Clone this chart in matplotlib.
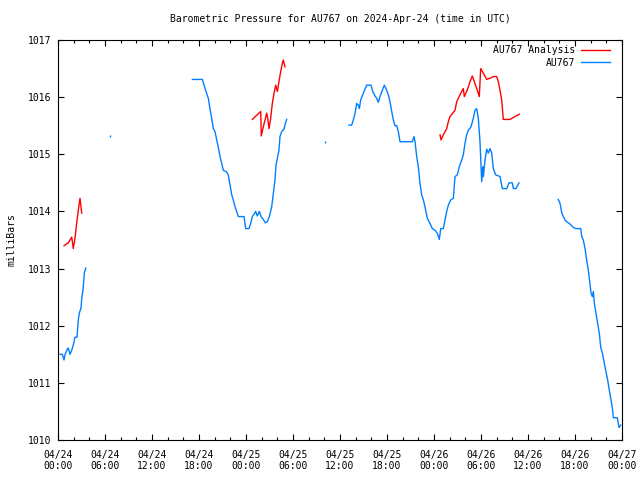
import numpy as np
import matplotlib
matplotlib.use("Agg")
import matplotlib.pyplot as plt

# hours since 2024-04-24 00:00 UTC; nan = gap in the record
au767_hours = [
    0.26, 0.55, 0.77, 0.89, 1.19, 1.31, 1.53, 1.75, 1.95, 2.17, 2.43, 2.59, 2.72, 2.94, 3.03, 3.19, 3.36, 3.54,
    np.nan,
    17.15, 18.42, 18.64, 18.89, 19.19, 19.40, 19.62, 19.83, 20.04, 20.26, 20.46, 20.68, 20.90, 21.10, 21.45,
    21.74, 21.96, 22.18, 22.38, 22.60, 22.81, 23.02, 23.74, 23.96, 24.38, 24.60, 24.81, 25.02, 25.24, 25.44,
    25.70, 25.92, 26.21, 26.47, 26.72, 26.98, 27.28, 27.49, 27.70, 27.83, 28.00, 28.21, 28.34, 28.56, 28.85,
    29.02, 29.20,
    np.nan,
    37.15, 37.49, 37.70, 37.92, 38.13, 38.34, 38.47, 38.64, 38.90, 39.07, 39.41, 39.96, 40.18, 40.47, 40.69,
    40.89, 41.11, 41.40, 41.66, 41.96, 42.17, 42.38, 42.60, 42.81, 43.02, 43.24, 43.44, 43.66, 45.23, 45.45,
    45.58, 45.79, 46.00, 46.21, 46.43, 46.64, 46.85, 47.15, 47.49, 47.79, 48.13, 48.42, 48.68, 48.86, 49.19,
    49.41, 49.62, 49.83, 50.13, 50.47, 50.68, 50.98, 51.23, 51.54, 51.74, 51.96, 52.17, 52.38, 52.72, 53.02,
    53.23, 53.45, 53.66, 53.87, 54.00, 54.09, 54.22, 54.30, 54.51, 54.73, 54.93, 55.15, 55.37, 55.57, 55.88,
    56.43, 56.72, 57.28, 57.58, 58.00, 58.13, 58.47, 58.85,
    np.nan,
    63.87, 64.09, 64.30, 64.51, 64.73, 64.94, 65.36, 65.79, 66.09, 66.73, 66.86, 67.06, 67.28, 67.49, 67.70,
    67.92, 68.05, 68.21, 68.34, 68.47, 68.68, 68.90, 69.10, 69.28, 69.49, 69.74, 69.96, 70.17, 70.38, 70.60,
    70.81, 70.89, 71.40, 71.62, 71.83,
]
au767_mb = [
    1011.50, 1011.50, 1011.40, 1011.49, 1011.59, 1011.61, 1011.50, 1011.57, 1011.66, 1011.80, 1011.80, 1012.10,
    1012.22, 1012.31, 1012.48, 1012.62, 1012.92, 1013.01,
    np.nan,
    1016.31, 1016.31, 1016.21, 1016.10, 1015.98, 1015.80, 1015.63, 1015.45, 1015.40, 1015.25, 1015.13, 1014.96,
    1014.84, 1014.72, 1014.70, 1014.64, 1014.46, 1014.29, 1014.20, 1014.08, 1014.00, 1013.91, 1013.91, 1013.70,
    1013.70, 1013.79, 1013.91, 1013.95, 1014.00, 1013.92, 1014.00, 1013.91, 1013.86, 1013.80, 1013.82, 1013.91,
    1014.08, 1014.32, 1014.55, 1014.81, 1014.93, 1015.07, 1015.31, 1015.40, 1015.44, 1015.54, 1015.61,
    np.nan,
    1015.51, 1015.51, 1015.60, 1015.72, 1015.89, 1015.86, 1015.80, 1015.95, 1016.04, 1016.10, 1016.21, 1016.21,
    1016.10, 1016.02, 1015.98, 1015.91, 1016.01, 1016.12, 1016.21, 1016.12, 1016.04, 1015.92, 1015.75, 1015.60,
    1015.50, 1015.50, 1015.40, 1015.22, 1015.22, 1015.31, 1015.22, 1014.96, 1014.78, 1014.49, 1014.29, 1014.20,
    1014.08, 1013.88, 1013.79, 1013.70, 1013.67, 1013.62, 1013.51, 1013.70, 1013.70, 1013.85, 1014.00, 1014.11,
    1014.20, 1014.23, 1014.61, 1014.64, 1014.78, 1014.90, 1014.99, 1015.19, 1015.34, 1015.42, 1015.48, 1015.63,
    1015.77, 1015.80, 1015.63, 1015.22, 1014.78, 1014.52, 1014.78, 1014.61, 1014.90, 1015.09, 1015.02, 1015.10,
    1015.02, 1014.75, 1014.64, 1014.61, 1014.40, 1014.40, 1014.50, 1014.50, 1014.40, 1014.40, 1014.50,
    np.nan,
    1014.21, 1014.14, 1013.98, 1013.91, 1013.85, 1013.82, 1013.78, 1013.72, 1013.70, 1013.70, 1013.56, 1013.50,
    1013.35, 1013.15, 1012.97, 1012.71, 1012.57, 1012.51, 1012.60, 1012.39, 1012.22, 1012.04, 1011.87, 1011.63,
    1011.52, 1011.34, 1011.19, 1011.05, 1010.87, 1010.70, 1010.52, 1010.39, 1010.39, 1010.22, 1010.26,
]
# lone readings between the gaps
au767_single_hours = [6.64, 34.10]
au767_single_mb = [1015.32, 1015.21]

analysis_hours = [
    0.77, 1.31, 1.75, 1.95, 2.17, 2.38, 2.59, 2.81, 3.03,
    np.nan,
    24.81, 25.88, 25.95, 26.21, 26.43, 26.64, 26.77, 26.94, 27.15, 27.36, 27.58, 27.79, 28.00, 28.21, 28.43,
    28.64, 28.76, 28.98,
    np.nan,
    48.77, 48.90, 49.19, 49.62, 49.83, 50.04, 50.39, 50.68, 50.90, 51.10, 51.32, 51.54, 51.74, 51.87, 52.17,
    52.38, 52.60, 52.89, 53.23, 53.53, 53.78, 53.96, 54.30, 54.73, 55.15, 55.57, 56.00, 56.21, 56.43, 56.64,
    56.85, 57.06, 57.70, 58.34, 58.89,
]
analysis_mb = [
    1013.40, 1013.45, 1013.55, 1013.35, 1013.53, 1013.79, 1014.02, 1014.23, 1013.97,
    np.nan,
    1015.61, 1015.75, 1015.32, 1015.48, 1015.60, 1015.72, 1015.63, 1015.45, 1015.63, 1015.89, 1016.07, 1016.21,
    1016.10, 1016.27, 1016.45, 1016.59, 1016.65, 1016.53,
    np.nan,
    1015.34, 1015.25, 1015.34, 1015.45, 1015.57, 1015.66, 1015.72, 1015.77, 1015.92, 1015.98, 1016.04, 1016.10,
    1016.15, 1016.01, 1016.10, 1016.18, 1016.27, 1016.37, 1016.24, 1016.12, 1016.01, 1016.50, 1016.42, 1016.31,
    1016.33, 1016.36, 1016.36, 1016.27, 1016.12, 1015.95, 1015.61, 1015.61, 1015.61, 1015.66, 1015.70,
]

x_ticks = list(range(0, 73, 6))
x_labels = ["04/24\n00:00", "04/24\n06:00", "04/24\n12:00", "04/24\n18:00",
            "04/25\n00:00", "04/25\n06:00", "04/25\n12:00", "04/25\n18:00",
            "04/26\n00:00", "04/26\n06:00", "04/26\n12:00", "04/26\n18:00",
            "04/27\n00:00"]
y_ticks = list(range(1010, 1018))

plt.rcParams['font.family'] = ['DejaVu Sans Mono']
plt.rcParams['font.size'] = 7

fig = plt.figure(figsize=(6.4, 4.8), dpi=100)
ax = fig.add_axes([58/640, 40/480, 564/640, 400/480])

ax.plot(analysis_hours, analysis_mb, color='#ff0000', lw=1, label='AU767 Analysis')
ax.plot(au767_hours, au767_mb, color='#0080ff', lw=1, label='AU767')
ax.plot(au767_single_hours, au767_single_mb, color='#0080ff', ls='none', marker='|', ms=2, mew=1)

ax.set_xlim(0, 72)
ax.set_ylim(1010, 1017)
ax.set_xticks(x_ticks)
ax.set_xticklabels(x_labels)
ax.set_xticks(range(0, 73, 2), minor=True)
ax.set_yticks(y_ticks)
ax.tick_params(which='major', direction='in', length=4, width=0.8, top=True, right=True, pad=5)
ax.tick_params(which='minor', direction='in', length=2, width=0.8, top=True)
ax.tick_params(axis='x', which='major', pad=7)
for s in ax.spines.values():
    s.set_linewidth(0.8)

ax.set_title("Barometric Pressure for AU767 on 2024-Apr-24 (time in UTC)", fontsize=7, pad=13)
ax.set_ylabel("milliBars", labelpad=8)
ax.legend(loc='upper right', bbox_to_anchor=(0.984, 0.995), frameon=False, markerfirst=False,
          handlelength=3.0, borderaxespad=0, borderpad=0.3, labelspacing=0.3, handletextpad=0.6)

fig.savefig("out.png", dpi=100)
